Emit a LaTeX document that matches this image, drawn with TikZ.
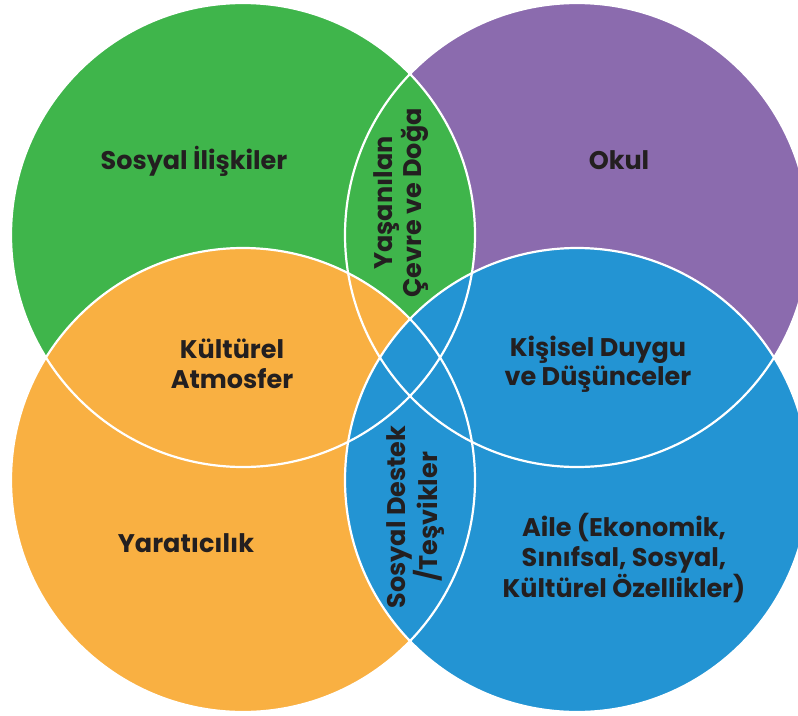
\documentclass[tikz,border=0pt]{standalone}
\usepackage{fontspec}
\setmainfont{Poppins}
\definecolor{cgreen}{HTML}{3FB54B}
\definecolor{cpurple}{HTML}{8B6BAE}
\definecolor{corange}{HTML}{F9B042}
\definecolor{cblue}{HTML}{2394D3}
\definecolor{ctext}{HTML}{231F20}
\tikzset{
  lbl/.style={text=ctext, font=\bfseries\fontsize{25.5}{29.5}\selectfont, align=center, inner sep=0pt},
  ring/.style={draw=white, line width=2.2pt}
}
\begin{document}
\begin{tikzpicture}[x=1pt,y=-1pt]
\useasboundingbox (0,0) rectangle (798,715);
\begin{scope}
\clip (0,0) rectangle (798,715);
\fill[cpurple] (577,235) circle[radius=232pt];
\fill[cgreen] (243,235) circle[radius=232pt];
\fill[corange] (243,480) circle[radius=232pt];
\fill[cblue] (577,480) circle[radius=232pt];
\draw[ring] (577,235) circle[radius=232pt];
\draw[ring] (243,235) circle[radius=232pt];
\draw[ring] (243,480) circle[radius=232pt];
\draw[ring] (577,480) circle[radius=232pt];
\end{scope}
\node[lbl] (sosyal) at (194,161) {Sosyal İlişkiler};
\node[lbl] (okul) at (619,160) {Okul};
\node[lbl, rotate=90] (cevre) at (401,203) {Yaşanılan\\Çevre ve Doğa};
\node[lbl] (kultur) at (232,364) {Kültürel\\Atmosfer};
\node[lbl] (kisisel) at (598,364) {Kişisel Duygu\\ve Düşünceler};
\node[lbl] (yarat) at (186,543) {Yaratıcılık};
\node[lbl, rotate=90] (destek) at (416,517) {Sosyal Destek\\/Teşvikler};
\node[lbl] (aile) at (624,558) {Aile (Ekonomik,\\Sınıfsal, Sosyal,\\Kültürel Özellikler)};
\end{tikzpicture}
\end{document}
